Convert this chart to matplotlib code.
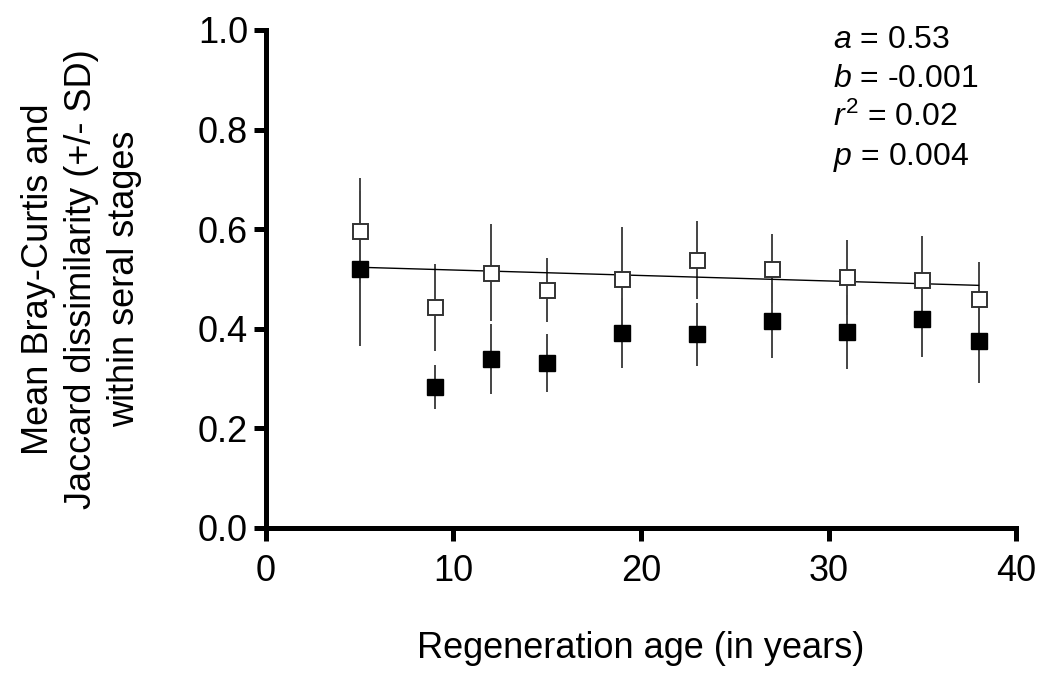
import matplotlib
matplotlib.use("Agg")
import matplotlib.pyplot as plt
import numpy as np

plt.rcParams['font.family'] = ['Liberation Sans', 'DejaVu Sans']
plt.rcParams['mathtext.fontset'] = 'custom'
plt.rcParams['mathtext.rm'] = 'Liberation Sans'
plt.rcParams['mathtext.it'] = 'Liberation Sans:italic'

# regeneration age (years)
age = [5, 9, 12, 15, 19, 23, 27, 31, 35, 38]

# open squares
open_mean = [0.597, 0.443, 0.513, 0.478, 0.500, 0.538, 0.521, 0.503, 0.498, 0.460]
open_sd = [0.105, 0.087, 0.097, 0.064, 0.105, 0.079, 0.070, 0.075, 0.088, 0.075]

# filled squares
filled_mean = [0.521, 0.283, 0.340, 0.332, 0.392, 0.389, 0.416, 0.394, 0.420, 0.375]
filled_sd = [0.155, 0.045, 0.070, 0.058, 0.070, 0.063, 0.075, 0.074, 0.077, 0.083]

# regression line
line_a = 0.529
line_b = -0.0011

stats_text = [r'$a$ = 0.53', r'$b$ = -0.001', r'$r^2$ = 0.02', r'$p$ = 0.004']


fig = plt.figure(figsize=(10.41, 6.75), dpi=100)
ax = fig.add_axes([0.2555, 0.2178, 0.7205, 0.7378])

## Error bars
ax.errorbar(age, open_mean, yerr=open_sd, fmt='none', ecolor='#444444', elinewidth=1.4, capsize=0, zorder=2)
ax.errorbar(age, filled_mean, yerr=filled_sd, fmt='none', ecolor='#444444', elinewidth=1.4, capsize=0, zorder=2)

## Regression line
xs = np.array([age[0], age[-1]])
ax.plot(xs, line_a + line_b * xs, color='k', lw=1.0, zorder=3)

## Markers
ax.plot(age, open_mean, 's', ms=10.8, mfc='white', mec='#333333', mew=1.4, zorder=4)
ax.plot(age, filled_mean, 's', ms=11.5, mfc='black', mec='black', mew=1.0, zorder=4)

ax.set_xlim(0, 40)
ax.set_ylim(0, 1.0)
ax.set_xticks([0, 10, 20, 30, 40])
ax.set_yticks([0.0, 0.2, 0.4, 0.6, 0.8, 1.0])
ax.set_yticklabels(['0.0', '0.2', '0.4', '0.6', '0.8', '1.0'])

for s in ['top', 'right']:
	ax.spines[s].set_visible(False)
for s in ['left', 'bottom']:
	ax.spines[s].set_linewidth(3.6)
ax.tick_params(direction='out', length=9, width=3.6, labelsize=26)
ax.tick_params(axis='y', pad=4)
ax.tick_params(axis='x', pad=10)

ax.set_xlabel("Regeneration age (in years)", fontsize=26, labelpad=30)
ax.set_ylabel("Mean Bray-Curtis and\nJaccard dissimilarity (+/- SD)\nwithin seral stages",
			  fontsize=26, labelpad=40, linespacing=1.3)

## Stats
for i, t in enumerate(stats_text):
	ax.text(0.756, 0.964 - i * 0.0783, t, transform=ax.transAxes, fontsize=23, va='baseline', ha='left')

fig.savefig("out.png", dpi=100)
